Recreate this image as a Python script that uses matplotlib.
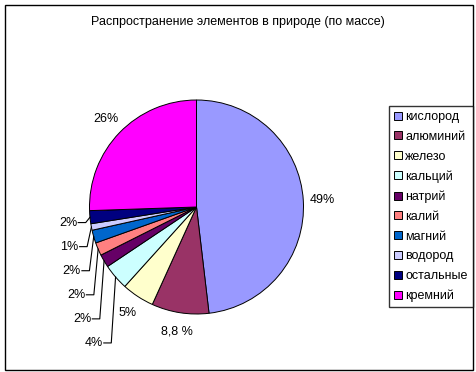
import numpy as np
import matplotlib
matplotlib.use('Agg')
from matplotlib import pyplot as plt
from matplotlib.patches import Rectangle

plt.rcParams['font.family'] = ['Liberation Sans', 'DejaVu Sans']

# Data
elements = ['кислород', 'алюминий', 'железо', 'кальций', 'натрий',
            'калий', 'магний', 'водород', 'остальные', 'кремний']
values = [49, 8.8, 5, 4, 2, 2, 2, 1, 2, 26]
value_labels = ['49%', '8,8 %', '5%', '4%', '2%', '2%', '2%', '1%', '2%', '26%']
colors = ['#9999FF', '#993366', '#FFFFCC', '#CCFFFF', '#660066',
          '#FF8080', '#0066CC', '#CCCCFF', '#000080', '#FF00FF']

W, H = 476, 372
fig = plt.figure(figsize=(W / 100, H / 100), dpi=100)

# outer border of the chart area
fig.patches.append(Rectangle((5 / W, 1 - 370 / H), 468 / W, 365 / H,
                             transform=fig.transFigure, fill=False,
                             edgecolor='black', linewidth=1))

fig.text(238 / W, 1 - 22 / H, 'Распространение элементов в природе (по массе)',
         ha='center', va='center', fontsize=9)

# pie placed by pixel centre / radius
cx, cy, r = 196.5, 207, 107
ax = fig.add_axes([(cx - r) / W, 1 - (cy + r) / H, 2 * r / W, 2 * r / H])
wedges, _ = ax.pie(values, colors=colors, startangle=90, counterclock=False,
                   wedgeprops=dict(edgecolor='black', linewidth=0.7))
ax.set_xlim(-1, 1)
ax.set_ylim(-1, 1)

# labels
small = [i for i, v in enumerate(values) if v < 5]
for i, w in enumerate(wedges):
    mid = np.deg2rad((w.theta1 + w.theta2) / 2)
    if i not in small:
        ax.text(1.18 * np.cos(mid), 1.18 * np.sin(mid), value_labels[i],
                ha='center', va='center', fontsize=9, clip_on=False)

# small slices: stacked labels with leader lines
y0 = None
for k, i in enumerate(reversed(small)):
    w = wedges[i]
    mid = np.deg2rad((w.theta1 + w.theta2) / 2)
    ex, ey = np.cos(mid), np.sin(mid)
    if y0 is None:
        y0 = ey - 0.05
    ly = y0 - 0.225 * k
    bx = ex - 0.04
    tx = bx - 0.08
    ax.plot([tx + 0.01, bx, ex], [ly, ly, ey], color='black', lw=0.8,
            clip_on=False)
    ax.text(tx, ly, value_labels[i], ha='right', va='center', fontsize=9,
            clip_on=False)

leg = fig.legend(wedges, elements, loc='upper left',
                 bbox_to_anchor=(389 / W, 1 - 106 / H), fontsize=9,
                 frameon=True, fancybox=False, borderpad=0.4,
                 handlelength=0.6, handleheight=0.6, handletextpad=0.3,
                 labelspacing=0.62, borderaxespad=0)
leg.get_frame().set_edgecolor('black')
leg.get_frame().set_linewidth(1)

fig.savefig('out.png', dpi=100)
